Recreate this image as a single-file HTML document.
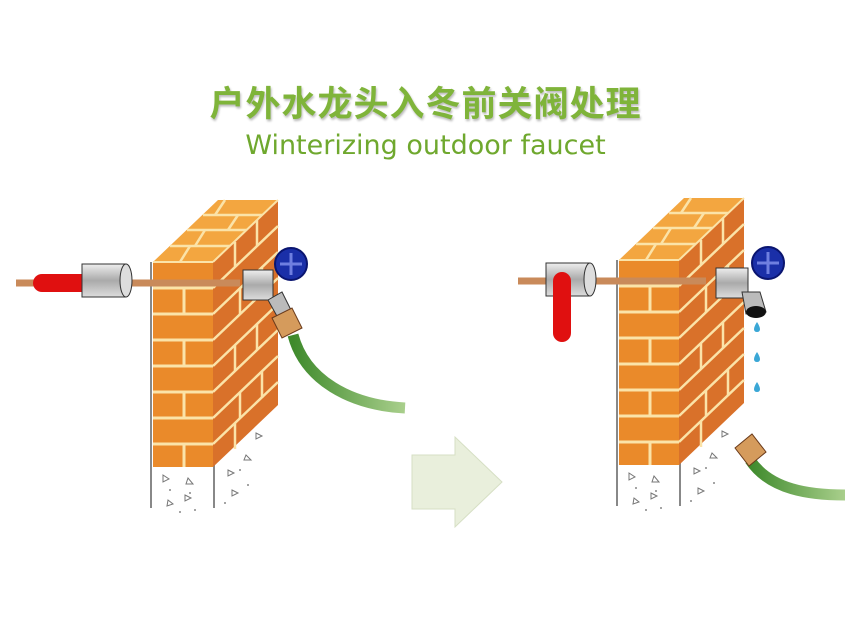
<!DOCTYPE html>
<html><head><meta charset="utf-8"><style>
body{margin:0;background:#fff;width:851px;height:638px;overflow:hidden}
.t{position:absolute;left:0;width:851px;text-align:center;color:#7fb43a}
</style></head><body>
<div class="t" style="top:76px;font:bold 35px 'Noto Sans CJK SC','WenQuanYi Zen Hei',sans-serif;letter-spacing:1px;text-shadow:1px 2px 2px #bbb">户外水龙头入冬前关阀处理</div>
<div class="t" style="top:130px;font:27px 'DejaVu Sans','Liberation Sans',sans-serif;color:#6fa82e">Winterizing outdoor faucet</div>
<svg width="851" height="638" style="position:absolute;left:0;top:0">
<defs>
<linearGradient id="sl" x1="0" y1="0" x2="0" y2="1"><stop offset="0" stop-color="#eee"/><stop offset=".5" stop-color="#aaa"/><stop offset="1" stop-color="#ddd"/></linearGradient>
<linearGradient id="hg" x1="0" y1="0" x2="1" y2="0"><stop offset="0" stop-color="#3f8a2c"/><stop offset="1" stop-color="#a9cf8c"/></linearGradient>
<g id="wall">
 <line x1="151" y1="262" x2="151" y2="508" stroke="#888" stroke-width="2"/>
 <line x1="214" y1="262" x2="214" y2="508" stroke="#888" stroke-width="2"/>
 <polygon points="153,262 213,262 278,200 218,200" fill="#f3a640"/>
 <g stroke="#fbe3a8" stroke-width="2.5">
  <line x1="170" y1="246" x2="230" y2="246"/><line x1="187" y1="230" x2="247" y2="230"/><line x1="203" y1="215" x2="263" y2="215"/>
  <line x1="195" y1="246" x2="205" y2="230"/><line x1="228" y1="230" x2="238" y2="215"/><line x1="180" y1="262" x2="190" y2="246"/><line x1="215" y1="215" x2="225" y2="200"/>
 </g>
 <rect x="153" y="262" width="60" height="205" fill="#ea8a2a"/>
 <g stroke="#fbe3a8" stroke-width="3">
  <line x1="153" y1="288" x2="213" y2="288"/><line x1="153" y1="314" x2="213" y2="314"/><line x1="153" y1="340" x2="213" y2="340"/><line x1="153" y1="366" x2="213" y2="366"/><line x1="153" y1="392" x2="213" y2="392"/><line x1="153" y1="418" x2="213" y2="418"/><line x1="153" y1="444" x2="213" y2="444"/>
  <line x1="184" y1="288" x2="184" y2="314"/><line x1="184" y1="340" x2="184" y2="366"/><line x1="184" y1="392" x2="184" y2="418"/><line x1="184" y1="444" x2="184" y2="467"/>
 </g>
 <polygon points="213,262 278,200 278,405 213,467" fill="#d9712a"/>
 <g stroke="#fbe3a8" stroke-width="2.5">
  <line x1="213" y1="288" x2="278" y2="226"/><line x1="213" y1="314" x2="278" y2="252"/><line x1="213" y1="340" x2="278" y2="278"/><line x1="213" y1="366" x2="278" y2="304"/><line x1="213" y1="392" x2="278" y2="330"/><line x1="213" y1="418" x2="278" y2="356"/><line x1="213" y1="444" x2="278" y2="382"/>
  <line x1="235" y1="242" x2="235" y2="267"/><line x1="257" y1="220" x2="257" y2="246"/><line x1="240" y1="288" x2="240" y2="314"/><line x1="262" y1="268" x2="262" y2="294"/><line x1="235" y1="345" x2="235" y2="371"/><line x1="257" y1="324" x2="257" y2="350"/><line x1="240" y1="392" x2="240" y2="418"/><line x1="262" y1="372" x2="262" y2="398"/><line x1="235" y1="423" x2="235" y2="449"/>
 </g>
 <line x1="153" y1="262" x2="213" y2="262" stroke="#fbe3a8" stroke-width="2"/>
 <line x1="213" y1="262" x2="278" y2="200" stroke="#fbe3a8" stroke-width="2"/>
 <g fill="none" stroke="#777" stroke-width="1"><path d="M163 475l6 4-6 3z"/><path d="M188 478l5 6h-7z"/><path d="M168 500l5 4-6 2z"/><path d="M185 495l6 3-6 3z"/><path d="M228 470l6 3-6 3z"/><path d="M246 455l5 5h-7z"/><path d="M256 433l6 3-6 3z"/><path d="M232 490l6 3-6 3z"/></g>
 <g fill="#888"><circle cx="170" cy="490" r="1"/><circle cx="190" cy="493" r="1"/><circle cx="180" cy="512" r="1"/><circle cx="195" cy="510" r="1"/><circle cx="240" cy="470" r="1"/><circle cx="225" cy="503" r="1"/><circle cx="248" cy="485" r="1"/></g>
</g>
</defs>
<use href="#wall"/>
<use href="#wall" transform="translate(466,-2)"/>
<line x1="16" y1="283" x2="240" y2="283" stroke="#c98a5a" stroke-width="7"/>
<rect x="33" y="274" width="68" height="18" rx="9" fill="#e01010"/>
<circle cx="94" cy="283" r="4" fill="#f07070"/>
<rect x="82" y="264" width="44" height="33" fill="url(#sl)" stroke="#333"/>
<ellipse cx="126" cy="280.5" rx="6" ry="16.5" fill="#ddd" stroke="#333"/>
<rect x="243" y="270" width="30" height="30" fill="url(#sl)" stroke="#333"/>
<polygon points="268,300 282,292 292,312 278,318" fill="#bbb" stroke="#333"/>
<circle cx="291" cy="264" r="16" fill="#1a2fa8" stroke="#0a1570" stroke-width="2"/>
<path d="M280 264h22M291 253v22" stroke="#6f7fe0" stroke-width="3"/>
<path d="M293 335 C305 380 350 405 405 408" stroke="url(#hg)" stroke-width="11" fill="none"/>
<polygon points="272,318 292,308 302,328 282,338" fill="#d59b5c" stroke="#6a3a1a"/>
<line x1="518" y1="281" x2="706" y2="281" stroke="#c98a5a" stroke-width="7"/>
<rect x="546" y="263" width="44" height="33" fill="url(#sl)" stroke="#333"/>
<ellipse cx="590" cy="279.5" rx="6" ry="16.5" fill="#ddd" stroke="#333"/>
<rect x="553" y="272" width="18" height="70" rx="9" fill="#e01010"/>
<rect x="716" y="268" width="32" height="30" fill="url(#sl)" stroke="#333"/>
<polygon points="742,292 760,292 766,312 746,314" fill="#bbb" stroke="#333"/>
<ellipse cx="756" cy="312" rx="10" ry="6" fill="#111"/>
<circle cx="768" cy="263" r="16" fill="#1a2fa8" stroke="#0a1570" stroke-width="2"/>
<path d="M757 263h22M768 252v22" stroke="#6f7fe0" stroke-width="3"/>
<g fill="#3aa7d6"><path d="M757 322c-4 6-4 10 0 10s4-4 0-10z"/><path d="M757 352c-4 6-4 10 0 10s4-4 0-10z"/><path d="M757 382c-4 6-4 10 0 10s4-4 0-10z"/></g>
<path d="M750 460 C770 490 810 495 845 495" stroke="url(#hg)" stroke-width="11" fill="none"/>
<polygon points="735,448 752,434 766,452 749,466" fill="#d59b5c" stroke="#6a3a1a"/>
<polygon points="412,455 455,455 455,437 502,482 455,527 455,509 412,509" fill="#e9efdc" stroke="#d6dfc4"/>
</svg>
</body></html>
